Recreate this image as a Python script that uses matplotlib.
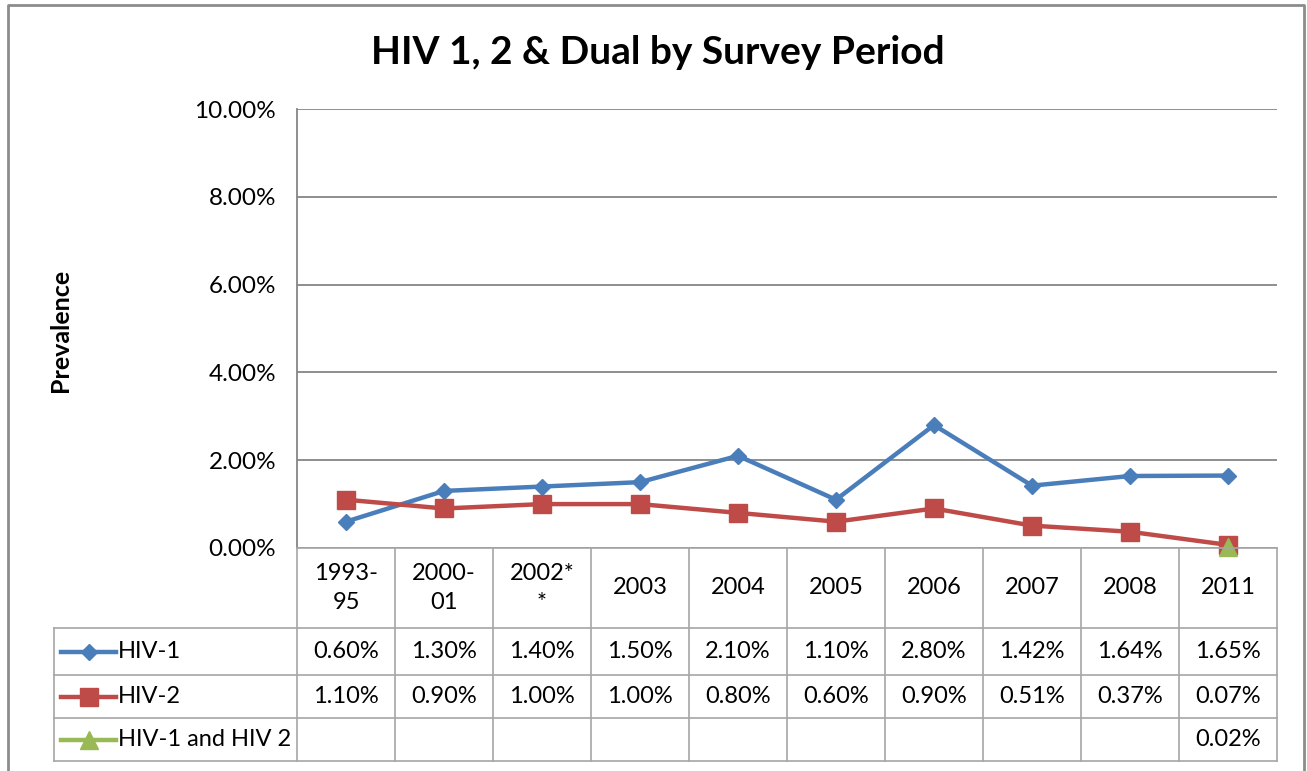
import numpy as np
import matplotlib
matplotlib.use("Agg")
import matplotlib.pyplot as plt
from matplotlib.lines import Line2D
from matplotlib.transforms import blended_transform_factory

periods = ["1993-\n95", "2000-\n01", "2002*\n*", "2003", "2004",
           "2005", "2006", "2007", "2008", "2011"]
hiv1 = [0.60, 1.30, 1.40, 1.50, 2.10, 1.10, 2.80, 1.42, 1.64, 1.65]
hiv2 = [1.10, 0.90, 1.00, 1.00, 0.80, 0.60, 0.90, 0.51, 0.37, 0.07]
dual = [None, None, None, None, None, None, None, None, None, 0.02]
series_names = ["HIV-1", "HIV-2", "HIV-1 and HIV 2"]
yticks = [0, 2, 4, 6, 8, 10]

plt.rcParams['font.family'] = ['Lato', 'DejaVu Sans']

W, H = 1307, 771
fig = plt.figure(figsize=(W / 100, H / 100), dpi=100)


def fx(px):
    return px / W


def fy(py):
    return 1 - py / H


grid_col = '#868686'
tab_col = '#a6a6a6'
colors = ['#4a7ebb', '#be4b48', '#98b954']
markers = ['D', 's', '^']
msizes = [8.5, 13, 13]
fs = 17

ax = fig.add_axes([fx(297), fy(548), fx(1277) - fx(297), fy(109) - fy(548)])
ax.set_xlim(-0.5, len(periods) - 0.5)
ax.set_ylim(0, 10)
ax.set_yticks(yticks)
ax.set_yticklabels([f"{v:.2f}%" for v in yticks], fontsize=17.5)
ax.set_xticks([])
ax.tick_params(axis='y', length=0, pad=15)
ax.yaxis.grid(True, color=grid_col, lw=1.3)
ax.set_axisbelow(True)
for s in ['top', 'right', 'bottom']:
    ax.spines[s].set_visible(False)
ax.spines['left'].set_color(grid_col)
ax.spines['left'].set_linewidth(1.3)

x = np.arange(len(periods))
all_series = [hiv1, hiv2, dual]
for vals, c, m, ms in zip(all_series, colors, markers, msizes):
    y = np.array([np.nan if v is None else v for v in vals], dtype=float)
    ax.plot(x, y, color=c, lw=3.2, marker=m, ms=ms, mec=c, mfc=c,
            clip_on=False, zorder=3)

# data table under the plot
tr = blended_transform_factory(ax.transData, fig.transFigure)
row_edges = [548, 628, 675, 718, 761]
tab_left = 54
for i in range(len(periods) + 1):
    fig.add_artist(Line2D([i - 0.5, i - 0.5], [fy(548), fy(761)],
                          transform=tr, color=tab_col, lw=1.2))
fig.add_artist(Line2D([fx(tab_left), fx(tab_left)], [fy(628), fy(761)],
                      transform=fig.transFigure, color=tab_col, lw=1.2))
fig.add_artist(Line2D([fx(297), fx(1277)], [fy(548), fy(548)],
                      transform=fig.transFigure, color=tab_col, lw=1.2))
for r in row_edges[1:]:
    fig.add_artist(Line2D([fx(tab_left), fx(1277)], [fy(r), fy(r)],
                          transform=fig.transFigure, color=tab_col, lw=1.2))

hy = fy((row_edges[0] + row_edges[1]) / 2)
for i, p in enumerate(periods):
    fig.text(i, hy, p, transform=tr, ha='center', va='center',
             fontsize=fs, linespacing=1.45)

for k, (vals, name) in enumerate(zip(all_series, series_names)):
    yc = fy((row_edges[k + 1] + row_edges[k + 2]) / 2)
    fig.add_artist(Line2D([fx(61), fx(116)], [yc, yc], transform=fig.transFigure,
                          color=colors[k], lw=3.2))
    fig.add_artist(Line2D([fx(88.5)], [yc], transform=fig.transFigure,
                          color=colors[k], marker=markers[k], ms=msizes[k],
                          mec=colors[k], mfc=colors[k], lw=0))
    fig.text(fx(118), yc, name, ha='left', va='center', fontsize=fs)
    for i, v in enumerate(vals):
        if v is not None:
            fig.text(i, yc, f"{v:.2f}%", transform=tr, ha='center',
                     va='center', fontsize=fs)

fig.text(fx(658), fy(53), "HIV 1, 2 & Dual by Survey Period", ha='center',
         va='center', fontsize=28, fontweight='bold')
fig.text(fx(61), fy(330), "Prevalence", rotation=90, ha='center',
         va='center', fontsize=18, fontweight='bold')

# outer chart border
border = '#8c8c8c'
fig.add_artist(Line2D([fx(8), fx(8), fx(1304), fx(1304)],
                      [0, fy(5), fy(5), 0], transform=fig.transFigure,
                      color=border, lw=2))

fig.savefig("out.png", dpi=100)
